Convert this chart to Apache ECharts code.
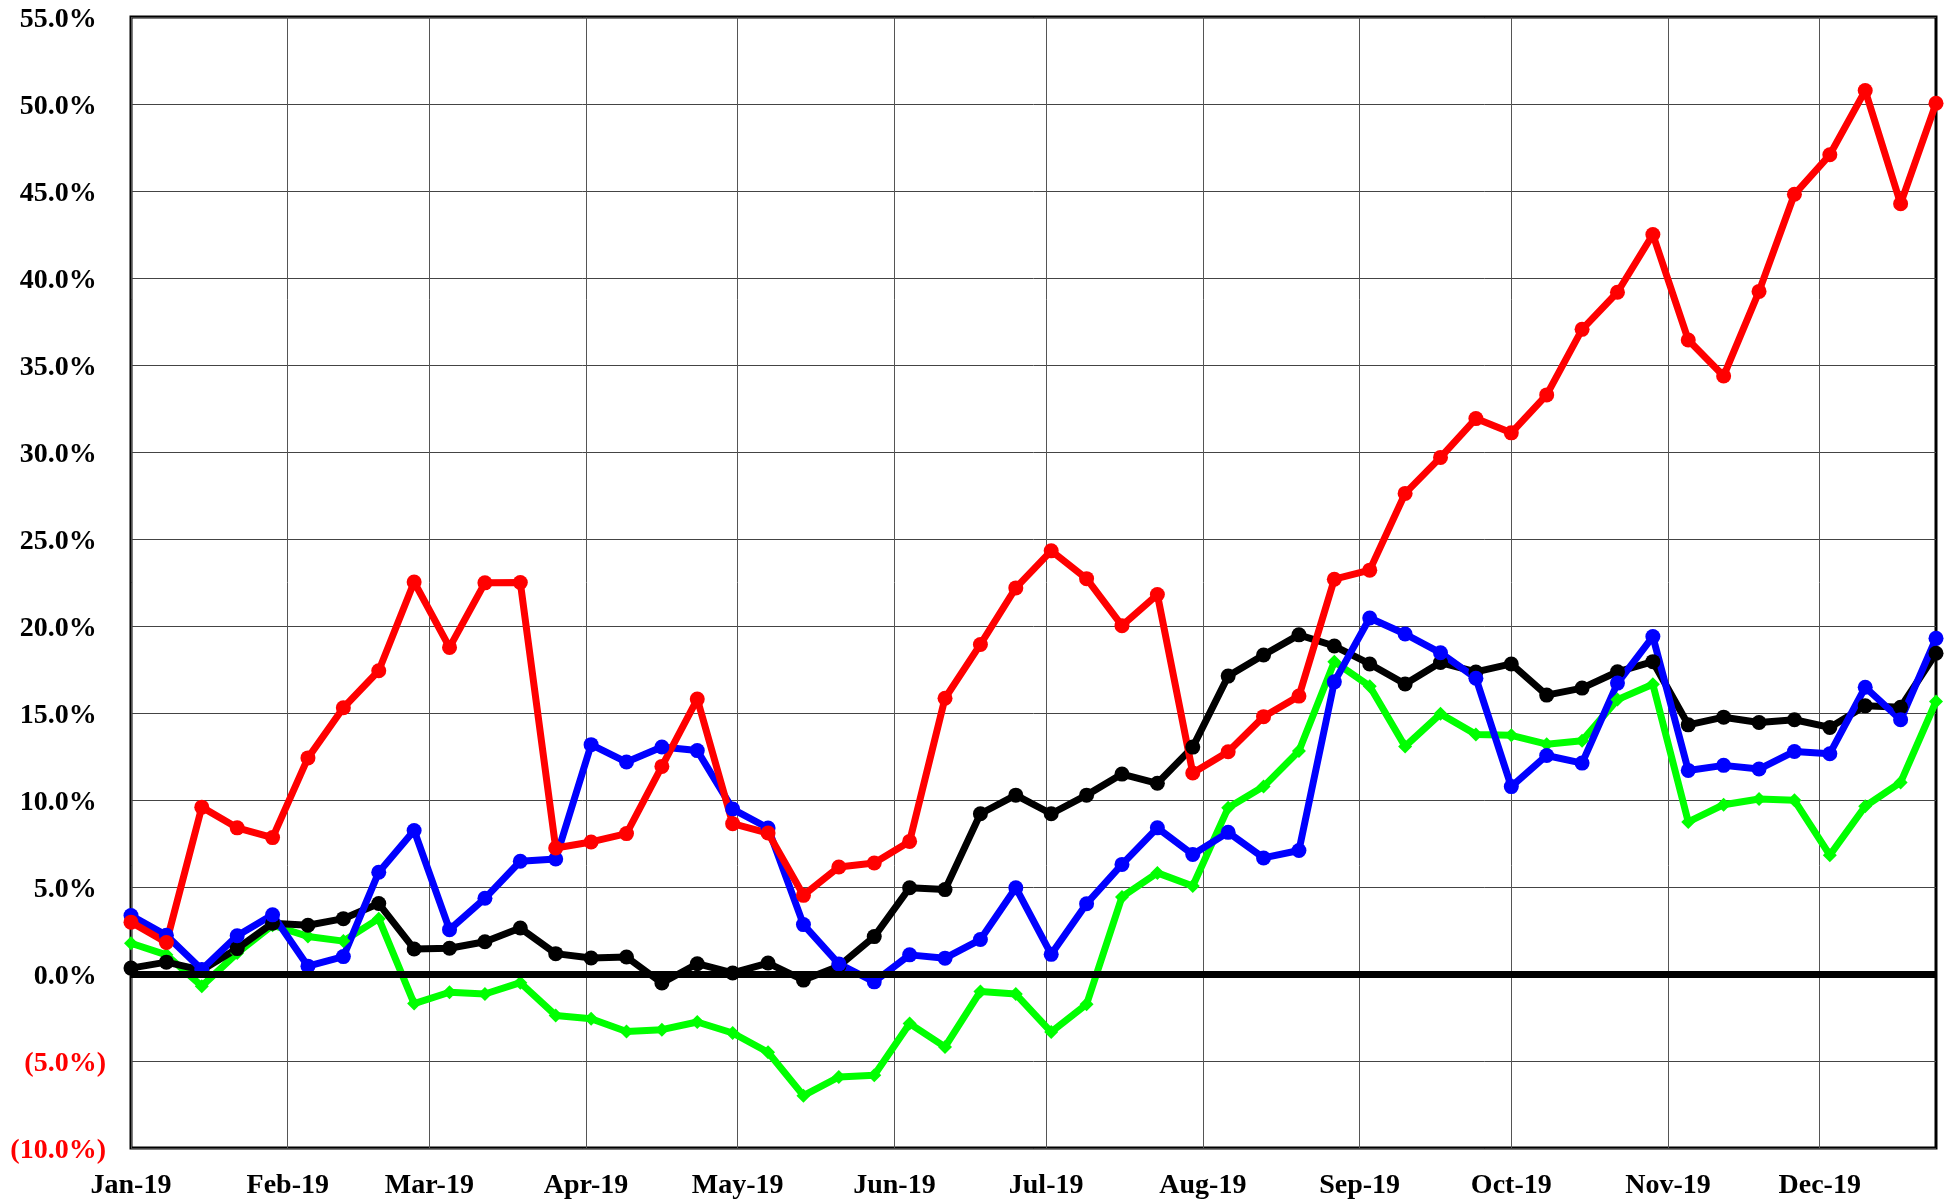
<!DOCTYPE html>
<html>
<head>
<meta charset="utf-8">
<script src="https://cdn.jsdelivr.net/npm/echarts@6/dist/echarts.min.js"></script>
<style>
  body { margin: 0; background: #fff; }
  #chart { width: 1950px; height: 1202px; }
</style>
</head>
<body>
<div id="chart"></div>
<script>
// weekly dates
const weeks = [
  '2019-01-01', '2019-01-08', '2019-01-15', '2019-01-22', '2019-01-29',
  '2019-02-05', '2019-02-12', '2019-02-19', '2019-02-26',
  '2019-03-05', '2019-03-12', '2019-03-19', '2019-03-26',
  '2019-04-02', '2019-04-09', '2019-04-16', '2019-04-23', '2019-04-30',
  '2019-05-07', '2019-05-14', '2019-05-21', '2019-05-28',
  '2019-06-04', '2019-06-11', '2019-06-18', '2019-06-25',
  '2019-07-02', '2019-07-09', '2019-07-16', '2019-07-23', '2019-07-30',
  '2019-08-06', '2019-08-13', '2019-08-20', '2019-08-27',
  '2019-09-03', '2019-09-10', '2019-09-17', '2019-09-24',
  '2019-10-01', '2019-10-08', '2019-10-15', '2019-10-22', '2019-10-29',
  '2019-11-05', '2019-11-12', '2019-11-19', '2019-11-26',
  '2019-12-03', '2019-12-10', '2019-12-17', '2019-12-24'
]
const monthTicks = [
  '2019-01-01', '2019-02-01', '2019-03-01', '2019-04-01', '2019-05-01', '2019-06-01',
  '2019-07-01', '2019-08-01', '2019-09-01', '2019-10-01', '2019-11-01', '2019-12-01'
]
const monthNames = ['Jan', 'Feb', 'Mar', 'Apr', 'May', 'Jun', 'Jul', 'Aug', 'Sep', 'Oct', 'Nov', 'Dec']

const redData = [
  2.98, 1.81, 9.59, 8.40, 7.84, 12.42, 15.30, 17.43, 22.53, 18.77, 22.48, 22.50,
  7.24, 7.59, 8.07, 11.93, 15.80, 8.64, 8.10, 4.52, 6.15, 6.38, 7.62, 15.85,
  18.94, 22.19, 24.32, 22.72, 20.02, 21.81, 11.55, 12.77, 14.79, 15.97, 22.69, 23.21,
  27.62, 29.69, 31.92, 31.10, 33.28, 37.05, 39.18, 42.50, 36.44, 34.37, 39.23, 44.81,
  47.08, 50.77, 44.27, 50.04
]
const blueData = [
  3.36, 2.22, 0.26, 2.20, 3.40, 0.45, 1.00, 5.85, 8.25, 2.55, 4.35, 6.48,
  6.61, 13.18, 12.18, 13.05, 12.84, 9.48, 8.39, 2.84, 0.58, -0.45, 1.10, 0.91,
  1.98, 4.96, 1.13, 4.04, 6.30, 8.40, 6.87, 8.14, 6.67, 7.10, 16.79, 20.46,
  19.54, 18.46, 17.00, 10.77, 12.56, 12.12, 16.72, 19.39, 11.70, 11.99, 11.78, 12.79,
  12.66, 16.48, 14.61, 19.29
]
const blackData = [
  0.34, 0.68, 0.22, 1.46, 2.92, 2.80, 3.18, 4.05, 1.44, 1.48, 1.85, 2.64,
  1.17, 0.92, 0.98, -0.52, 0.59, 0.06, 0.63, -0.35, 0.45, 2.15, 4.96, 4.85,
  9.21, 10.28, 9.21, 10.28, 11.49, 10.96, 13.04, 17.12, 18.33, 19.49, 18.85, 17.82,
  16.67, 17.90, 17.36, 17.82, 16.03, 16.43, 17.37, 17.95, 14.32, 14.76, 14.45, 14.61,
  14.17, 15.41, 15.33, 18.43
]
const greenData = [
  1.77, 1.10, -0.70, 1.20, 2.80, 2.16, 1.89, 3.18, -1.70, -1.05, -1.15, -0.50,
  -2.38, -2.57, -3.30, -3.20, -2.76, -3.39, -4.50, -6.99, -5.92, -5.82, -2.85, -4.19,
  -1.00, -1.15, -3.34, -1.74, 4.43, 5.81, 5.06, 9.55, 10.77, 12.82, 17.95, 16.54,
  13.08, 14.95, 13.77, 13.72, 13.21, 13.40, 15.77, 16.65, 8.74, 9.73, 10.06, 9.98,
  6.83, 9.64, 11.01, 15.66
]

// dates go on a plain value axis as timestamps
const pair = arr => weeks.map((d, i) => [Date.parse(d), arr[i]])

const chart = echarts.init(document.getElementById('chart'))
const font = 'Liberation Serif, Times New Roman, serif'

const lineSeries = (name, color, data, symbol, size) => ({
  name,
  type: 'line',
  data: pair(data),
  symbol,
  symbolSize: size,
  showSymbol: true,
  lineStyle: { color, width: 7 },
  itemStyle: { color },
  emphasis: { disabled: true }
})

const green = lineSeries('green', '#00ff00', greenData, 'diamond', 14)
// zero line under the series
green.markLine = {
  silent: true,
  symbol: 'none',
  label: { show: false },
  lineStyle: { color: '#000', width: 7, type: 'solid' },
  data: [{ yAxis: 0 }]
}

const tickValues = monthTicks.map(d => Date.parse(d))

const option = {
  animation: false,
  backgroundColor: '#fff',
  grid: {
    left: 131,
    right: 14,
    top: 17,
    bottom: 54,
    show: true,
    borderColor: '#000',
    borderWidth: 3,
    backgroundColor: 'transparent'
  },
  xAxis: {
    type: 'value',
    min: Date.parse(weeks[0]),
    max: Date.parse(weeks[weeks.length - 1]),
    axisLine: { show: false },
    axisTick: { show: false, customValues: tickValues },
    splitLine: { show: true, lineStyle: { color: '#555', width: 1 } },
    axisLabel: {
      customValues: tickValues,
      margin: 24,
      color: '#000',
      fontFamily: font,
      fontWeight: 'bold',
      fontSize: 28,
      formatter: (val) => {
        const d = new Date(val)
        return monthNames[d.getUTCMonth()] + '-19'
      }
    }
  },
  yAxis: {
    type: 'value',
    min: -10,
    max: 55,
    interval: 5,
    axisLine: { show: false },
    axisTick: { show: false },
    splitLine: { show: true, lineStyle: { color: '#444', width: 1 } },
    axisLabel: {
      margin: 25,
      padding: [5, 0, 0, 0],
      fontFamily: font,
      fontWeight: 'bold',
      fontSize: 28,
      formatter: (v) => {
        if (v < 0) return '{n|(' + (-v).toFixed(1) + '%)}'
        return '{p|' + v.toFixed(1) + '%}{h|)}'
      },
      rich: {
        p: { color: '#000', fontFamily: font, fontWeight: 'bold', fontSize: 28 },
        h: { color: 'rgba(0,0,0,0)', fontFamily: font, fontWeight: 'bold', fontSize: 28 },
        n: { color: '#ff0000', fontFamily: font, fontWeight: 'bold', fontSize: 28 }
      }
    }
  },
  series: [
    green,
    lineSeries('black', '#000000', blackData, 'circle', 15),
    lineSeries('blue', '#0000ff', blueData, 'circle', 15),
    lineSeries('red', '#ff0000', redData, 'circle', 15)
  ]
}

chart.setOption(option)
window.addEventListener('resize', () => chart.resize())
</script>
</body>
</html>
